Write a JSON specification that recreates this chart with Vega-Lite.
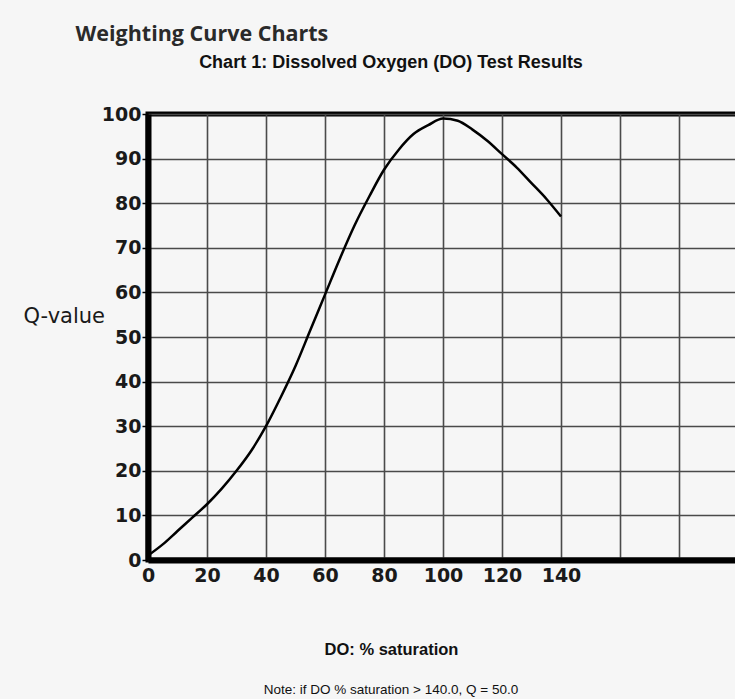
{
  "$schema": "https://vega.github.io/schema/vega-lite/v6.json",
  "background": "#f6f6f6",
  "padding": {"left": 20, "top": 24, "right": 0, "bottom": 0},
  "title": {
    "text": "Weighting Curve Charts",
    "anchor": "start",
    "frame": "bounds",
    "dx": 55,
    "font": "Open Sans",
    "fontSize": 21.5,
    "fontWeight": "bold",
    "color": "#2a2a2a",
    "offset": 6
  },
  "spacing": 22,
  "vconcat": [
    {
      "width": 590,
      "height": 446,
      "view": {"stroke": "black", "strokeWidth": 5},
      "title": {
        "text": "Chart 1: Dissolved Oxygen (DO) Test Results",
        "anchor": "middle",
        "dx": -52,
        "font": "Liberation Sans",
        "fontSize": 18,
        "fontWeight": "bold",
        "color": "#111111",
        "offset": 33
      },
      "data": {
        "values": [
          {"DO": 0, "Q": 1},
          {"DO": 5, "Q": 3.5},
          {"DO": 10, "Q": 6.5},
          {"DO": 15, "Q": 9.5},
          {"DO": 20, "Q": 12.5},
          {"DO": 25, "Q": 16},
          {"DO": 30, "Q": 20},
          {"DO": 35, "Q": 24.5},
          {"DO": 40, "Q": 30},
          {"DO": 45, "Q": 36.5},
          {"DO": 50, "Q": 43.5},
          {"DO": 55, "Q": 51.5},
          {"DO": 60, "Q": 59.5},
          {"DO": 65, "Q": 67.5},
          {"DO": 70, "Q": 75},
          {"DO": 75, "Q": 81.5},
          {"DO": 80, "Q": 87.5},
          {"DO": 85, "Q": 92},
          {"DO": 90, "Q": 95.5},
          {"DO": 95, "Q": 97.5},
          {"DO": 100, "Q": 99},
          {"DO": 105, "Q": 98.5},
          {"DO": 110, "Q": 96.5},
          {"DO": 115, "Q": 94},
          {"DO": 120, "Q": 91},
          {"DO": 125, "Q": 88},
          {"DO": 130, "Q": 84.5},
          {"DO": 135, "Q": 81},
          {"DO": 140, "Q": 77}
        ]
      },
      "mark": {"type": "line", "interpolate": "monotone", "color": "black", "strokeWidth": 2.5},
      "encoding": {
        "x": {
          "field": "DO",
          "type": "quantitative",
          "scale": {"domain": [0, 200], "nice": false},
          "axis": {
            "values": [0, 20, 40, 60, 80, 100, 120, 140, 160, 180, 200],
            "labelExpr": "datum.value <= 140 ? datum.label : ''",
            "labelFlush": false,
            "labelOverlap": false,
            "grid": true,
            "gridColor": "#4a4a4a",
            "gridWidth": 1.6,
            "domainColor": "black",
            "domainWidth": 6,
            "tickSize": 0,
            "labelPadding": 6,
            "labelFont": "DejaVu Sans",
            "labelFontSize": 19,
            "labelFontWeight": "bold",
            "labelColor": "#1a1a1a",
            "title": "DO: % saturation",
            "titleFont": "Liberation Sans",
            "titleFontSize": 16.5,
            "titleFontWeight": "bold",
            "titleColor": "#111111",
            "titleX": 243,
            "titleAlign": "center",
            "titlePadding": 56
          }
        },
        "y": {
          "field": "Q",
          "type": "quantitative",
          "scale": {"domain": [0, 100], "nice": false},
          "axis": {
            "values": [0, 10, 20, 30, 40, 50, 60, 70, 80, 90, 100],
            "grid": true,
            "gridColor": "#4a4a4a",
            "gridWidth": 1.6,
            "domainColor": "black",
            "domainWidth": 6,
            "tickSize": 6,
            "tickColor": "black",
            "tickWidth": 1.5,
            "labelPadding": 1,
            "labelFont": "DejaVu Sans",
            "labelFontSize": 19,
            "labelFontWeight": "bold",
            "labelColor": "#1a1a1a",
            "title": "Q-value",
            "titleAngle": 0,
            "titleX": -125,
            "titleY": 202,
            "titleAlign": "left",
            "titleBaseline": "middle",
            "titleFont": "DejaVu Sans",
            "titleFontSize": 21,
            "titleFontWeight": "normal",
            "titleColor": "#1a1a1a"
          }
        }
      }
    },
    {
      "width": 590,
      "height": 1,
      "view": {"stroke": null},
      "data": {"values": []},
      "mark": "point",
      "title": {
        "text": "Note: if DO % saturation > 140.0, Q = 50.0",
        "anchor": "middle",
        "dx": -52,
        "font": "Liberation Sans",
        "fontSize": 13.5,
        "fontWeight": "normal",
        "color": "#111111",
        "offset": 2
      }
    }
  ]
}
